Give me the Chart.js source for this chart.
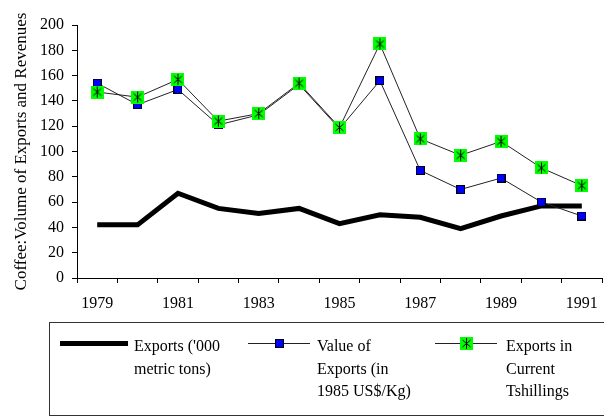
<!DOCTYPE html>
<html>
<head>
<meta charset="utf-8">
<script src="https://cdn.jsdelivr.net/npm/chart.js@4.4.0/dist/chart.umd.min.js"></script>
<style>
    html, body { margin: 0; padding: 0; background: #fff; overflow: hidden; }
    canvas { display: block; }
</style>
</head>
<body>
<canvas id="coffee-chart" width="610" height="417"></canvas>
<script>
// Coffee exports, 1979-1991
const years = ['1979', '1980', '1981', '1982', '1983', '1984', '1985',
               '1986', '1987', '1988', '1989', '1990', '1991'];
const exportVolume = [42, 42, 67, 55, 51, 55, 43, 50, 48, 39, 49, 57, 57];
const exportValue = [154, 137, 149, 121, 129, 153, 118, 156, 85, 70, 79, 60, 49];
const exportShillings = [147, 143, 157, 124, 130, 154, 119, 185, 110, 97, 108, 87, 73];
const yTicks = [0, 20, 40, 60, 80, 100, 120, 140, 160, 180, 200];

const seriesLabels = [
    ['Exports (\'000', 'metric tons)'],
    ['Value of', 'Exports (in', '1985 US$/Kg)'],
    ['Exports in', 'Current', 'Tshillings']
];

const FONT = 'Liberation Serif, Times New Roman, serif';

// marker images
function blueSquare() {
    const c = document.createElement('canvas');
    c.width = 9; c.height = 9;
    const g = c.getContext('2d');
    g.fillStyle = '#000';
    g.fillRect(0, 0, 9, 9);
    g.fillStyle = '#0000ff';
    g.fillRect(1, 1, 7, 7);
    return c;
}

function greenStar() {
    const c = document.createElement('canvas');
    c.width = 13; c.height = 13;
    const g = c.getContext('2d');
    g.fillStyle = '#00ff00';
    g.fillRect(0, 0, 13, 13);
    g.strokeStyle = '#000';
    g.lineWidth = 1;
    g.beginPath();
    g.moveTo(6.5, 1); g.lineTo(6.5, 12);
    g.moveTo(2.5, 3); g.lineTo(10.5, 10);
    g.moveTo(10.5, 3); g.lineTo(2.5, 10);
    g.stroke();
    return c;
}

const blueMarker = blueSquare();
const greenMarker = greenStar();

// legend drawn in the bottom box, labels split on several lines
const boxLegend = {
    id: 'boxLegend',
    afterDraw(chart) {
        const ctx = chart.ctx;
        ctx.save();
        ctx.strokeStyle = '#333';
        ctx.lineWidth = 1;
        ctx.strokeRect(49.5, 322.5, 600, 93);

        const sampleX = [60, 248, 435];
        const sampleW = [68, 62, 62];
        const textX = [134, 317, 506];
        ctx.font = '16px ' + FONT;
        ctx.fillStyle = '#000';
        ctx.textBaseline = 'middle';
        chart.data.datasets.forEach((ds, i) => {
            const y = 343.5;
            ctx.strokeStyle = ds.borderColor;
            ctx.lineWidth = ds.borderWidth;
            ctx.beginPath();
            ctx.moveTo(sampleX[i], y);
            ctx.lineTo(sampleX[i] + sampleW[i], y);
            ctx.stroke();
            if (ds.pointStyle && ds.pointStyle.width) {
                const img = ds.pointStyle;
                ctx.drawImage(img, Math.round(sampleX[i] + sampleW[i] / 2 - img.width / 2),
                    Math.round(y - img.height / 2));
            }
            ds.legendLines.forEach((line, k) => {
                ctx.fillText(line, textX[i], 347 + k * 22.5);
            });
        });
        ctx.restore();
    }
};

const chart = new Chart(document.getElementById('coffee-chart').getContext('2d'), {
    type: 'line',
    data: {
        labels: years,
        datasets: [{
            label: seriesLabels[0].join(' '),
            legendLines: seriesLabels[0],
            data: exportVolume,
            borderColor: '#000',
            borderWidth: 5,
            pointRadius: 0,
            tension: 0,
            order: 3
        }, {
            label: seriesLabels[1].join(' '),
            legendLines: seriesLabels[1],
            data: exportValue,
            borderColor: '#222',
            borderWidth: 1,
            pointStyle: blueMarker,
            pointRadius: 5,
            tension: 0,
            order: 2
        }, {
            label: seriesLabels[2].join(' '),
            legendLines: seriesLabels[2],
            data: exportShillings,
            borderColor: '#222',
            borderWidth: 1,
            pointStyle: greenMarker,
            pointRadius: 7,
            tension: 0,
            order: 1
        }]
    },
    options: {
        responsive: false,
        animation: false,
        layout: { padding: { top: 25, right: 3, left: 0, bottom: 0 } },
        plugins: {
            legend: { display: false },
            tooltip: { enabled: false }
        },
        scales: {
            x: {
                offset: true,
                grid: {
                    offset: true,
                    drawOnChartArea: false,
                    color: '#000',
                    tickLength: 5
                },
                border: { color: '#000', width: 1 },
                ticks: {
                    color: '#000',
                    font: { family: FONT, size: 16 },
                    padding: 11,
                    autoSkip: false,
                    maxRotation: 0,
                    callback: function(value, index) {
                        return index % 2 === 0 ? years[index] : '';
                    }
                },
                afterFit(scale) { scale.height = 139; }
            },
            y: {
                min: yTicks[0],
                max: yTicks[yTicks.length - 1],
                afterBuildTicks(scale) {
                    scale.ticks = yTicks.map(v => ({ value: v }));
                },
                grid: {
                    drawOnChartArea: false,
                    color: '#000',
                    tickLength: 5
                },
                border: { color: '#000', width: 1 },
                ticks: {
                    color: '#000',
                    font: { family: FONT, size: 16 },
                    padding: 8
                },
                title: {
                    display: true,
                    text: 'Coffee:Volume of Exports and Revenues',
                    color: '#000',
                    font: { family: FONT, size: 17 },
                    padding: { top: 11, bottom: 0 }
                },
                afterFit(scale) { scale.width = 77; }
            }
        }
    },
    plugins: [boxLegend]
});
</script>
</body>
</html>
